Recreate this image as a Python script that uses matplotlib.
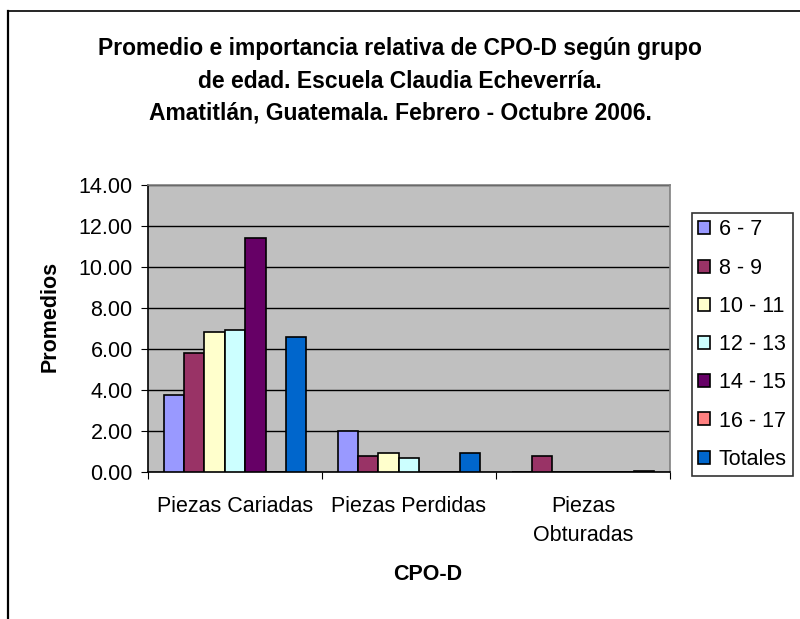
import numpy as np
import matplotlib.pyplot as plt
from matplotlib.lines import Line2D

plt.rcParams['font.family'] = ['Liberation Sans', 'DejaVu Sans']

categories = ["Piezas Cariadas", "Piezas Perdidas", "Piezas\nObturadas"]
groups = ["6 - 7", "8 - 9", "10 - 11", "12 - 13", "14 - 15", "16 - 17", "Totales"]
colors = ["#9999FF", "#993366", "#FFFFCC", "#CCFFFF", "#660066", "#FF8080", "#0066CC"]

# promedios por grupo de edad, uno por categoria
v_6_7 = [3.78, 2.00, 0.00]
v_8_9 = [5.80, 0.76, 0.76]
v_10_11 = [6.84, 0.95, 0.00]
v_12_13 = [6.93, 0.66, 0.00]
v_14_15 = [11.42, 0.00, 0.00]
v_16_17 = [0.00, 0.00, 0.00]
v_totales = [6.57, 0.95, 0.07]
values = [v_6_7, v_8_9, v_10_11, v_12_13, v_14_15, v_16_17, v_totales]

fig = plt.figure(figsize=(8, 6.19), dpi=100)
ax = fig.add_axes([148 / 800, 1 - 472 / 619, 522 / 800, 287 / 619])
ax.set_facecolor("#C0C0C0")

x = np.arange(len(categories))
w = 0.117
for i, (g, c, v) in enumerate(zip(groups, colors, values)):
    ax.bar(x + (i - 3) * w, v, w, color=c, edgecolor="black", linewidth=1.2,
           label=g, zorder=3)

ax.set_ylim(0, 14)
ax.set_xlim(-0.5, 2.5)
yt = np.arange(0, 15, 2)
ax.set_yticks(yt)
ax.set_yticklabels([f"{t:.2f}" for t in yt], fontsize=15.5)
ax.yaxis.grid(True, color="black", linewidth=1, zorder=1)
ax.set_axisbelow(True)

ax.set_xticks([-0.5, 0.5, 1.5, 2.5])
ax.set_xticklabels([])
ax.set_xticks(x, minor=True)
ax.set_xticklabels(categories, minor=True, fontsize=15.5, linespacing=1.55)
ax.tick_params(axis="x", which="minor", length=0, pad=17)
ax.tick_params(axis="both", which="major", length=5, direction="out", color="black")
ax.tick_params(axis="y", pad=6)

for s in ax.spines.values():
    s.set_color("#808080")
    s.set_linewidth(1.2)
ax.spines["bottom"].set_color("black")
ax.spines["left"].set_color("black")

fig.text(50 / 800, 1 - 316 / 619, "Promedios", rotation=90, ha="center", va="center",
         fontsize=15.5, fontweight="bold")
fig.text(428 / 800, 1 - 574 / 619, "CPO-D", ha="center", va="center",
         fontsize=15.5, fontweight="bold")

fig.text(0.5, 1 - 81 / 619, "Promedio e importancia relativa de CPO-D según grupo\n"
         "de edad. Escuela Claudia Echeverría.\n"
         "Amatitlán, Guatemala. Febrero - Octubre 2006.",
         ha="center", va="center", fontsize=16.5, fontweight="bold", linespacing=1.5)

leg = ax.legend(loc="upper left", bbox_to_anchor=(692 / 800, 1 - 213 / 619),
                bbox_transform=fig.transFigure,
                fontsize=15.5, frameon=True, fancybox=False, edgecolor="black",
                handlelength=0.55, handleheight=0.55, handletextpad=0.4,
                labelspacing=0.8, borderpad=0.3, borderaxespad=0)
leg.get_frame().set_linewidth(1.2)

# marco exterior del grafico
top = 1 - 11 / 619
fig.add_artist(Line2D([0.01, 1.0], [top, top], color="black", linewidth=1.2,
                      transform=fig.transFigure))
fig.add_artist(Line2D([0.01, 0.01], [0.0, top], color="black", linewidth=1.6,
                      transform=fig.transFigure))

fig.savefig("out.png", dpi=100)
